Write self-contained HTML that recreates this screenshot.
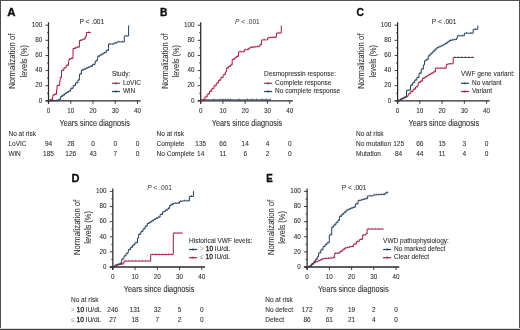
<!DOCTYPE html>
<html><head><meta charset="utf-8"><style>
html,body{margin:0;padding:0;background:#fff;}
#w{position:relative;width:520px;height:330px;overflow:hidden;background:#fff;}
svg{display:block;font-family:"Liberation Sans", sans-serif;}
.b{position:absolute;background:#4d4d4d;}
</style></head><body><div id="w">
<svg width="520" height="330" viewBox="0 0 520 330">
<defs><filter id="fs" x="-5%" y="-5%" width="110%" height="110%"><feGaussianBlur stdDeviation="0.15"/></filter><filter id="ft" x="-5%" y="-5%" width="110%" height="110%"><feGaussianBlur stdDeviation="0.3"/></filter></defs>
<rect x="0" y="0" width="520" height="330" fill="#fff"/>
<g filter="url(#fs)"><line x1="48.50" y1="22.20" x2="48.50" y2="103.80" stroke="#2a2a2a" stroke-width="1.25"/>
<line x1="45.50" y1="100.80" x2="140.70" y2="100.80" stroke="#2a2a2a" stroke-width="1.3"/>
<line x1="45.50" y1="100.80" x2="48.50" y2="100.80" stroke="#2a2a2a" stroke-width="0.9"/>
<line x1="47.00" y1="93.24" x2="48.50" y2="93.24" stroke="#2a2a2a" stroke-width="0.9"/>
<line x1="45.50" y1="85.68" x2="48.50" y2="85.68" stroke="#2a2a2a" stroke-width="0.9"/>
<line x1="47.00" y1="78.12" x2="48.50" y2="78.12" stroke="#2a2a2a" stroke-width="0.9"/>
<line x1="45.50" y1="70.56" x2="48.50" y2="70.56" stroke="#2a2a2a" stroke-width="0.9"/>
<line x1="47.00" y1="63.00" x2="48.50" y2="63.00" stroke="#2a2a2a" stroke-width="0.9"/>
<line x1="45.50" y1="55.44" x2="48.50" y2="55.44" stroke="#2a2a2a" stroke-width="0.9"/>
<line x1="47.00" y1="47.88" x2="48.50" y2="47.88" stroke="#2a2a2a" stroke-width="0.9"/>
<line x1="45.50" y1="40.32" x2="48.50" y2="40.32" stroke="#2a2a2a" stroke-width="0.9"/>
<line x1="47.00" y1="32.76" x2="48.50" y2="32.76" stroke="#2a2a2a" stroke-width="0.9"/>
<line x1="45.50" y1="25.20" x2="48.50" y2="25.20" stroke="#2a2a2a" stroke-width="0.9"/>
<line x1="48.50" y1="100.80" x2="48.50" y2="103.80" stroke="#2a2a2a" stroke-width="0.9"/>
<line x1="70.75" y1="100.80" x2="70.75" y2="103.80" stroke="#2a2a2a" stroke-width="0.9"/>
<line x1="93.00" y1="100.80" x2="93.00" y2="103.80" stroke="#2a2a2a" stroke-width="0.9"/>
<line x1="115.25" y1="100.80" x2="115.25" y2="103.80" stroke="#2a2a2a" stroke-width="0.9"/>
<line x1="137.50" y1="100.80" x2="137.50" y2="103.80" stroke="#2a2a2a" stroke-width="0.9"/>
<path d="M48.50,100.80L50.20,100.80L50.20,99.70L52.50,99.70L52.50,97.50L52.90,97.50L52.90,95.20L54.30,95.20L54.30,94.30L56.50,94.30L56.50,89.70L57.00,89.70L57.00,85.60L59.70,85.60L59.70,81.10L60.20,81.10L60.20,77.50L61.50,77.50L61.50,70.40L63.85,70.40L63.85,67.90L66.20,67.90L66.20,65.40L68.50,65.40L68.50,61.70L68.90,61.70L68.90,59.50L70.30,59.50L70.30,58.50L73.00,58.50L73.00,48.50L75.70,48.50L75.70,47.20L79.40,47.20L79.40,40.50L81.45,40.50L81.45,39.80L83.50,39.80L83.50,39.10L85.30,39.10L85.30,36.50L86.40,36.50L86.40,32.50L90.90,32.50" fill="none" stroke="#a81d42" stroke-width="1.0" stroke-linejoin="miter"/>
<path d="M49.35,99.50V100.80M51.35,98.40V99.70M53.60,93.90V95.20M55.40,93.00V94.30M58.35,84.30V85.60M60.85,76.20V77.50M62.67,69.10V70.40M65.03,66.60V67.90M67.35,64.10V65.40M69.60,58.20V59.50M71.65,57.20V58.50M74.35,47.20V48.50M77.55,45.90V47.20M80.43,39.20V40.50M82.47,38.50V39.80M84.40,37.80V39.10M88.65,31.20V32.50" fill="none" stroke="#a81d42" stroke-width="0.65"/>
<path d="M48.50,100.80L57.90,100.80L57.90,99.70L60.60,99.70L60.60,96.50L62.55,96.50L62.55,95.15L64.50,95.15L64.50,93.80L66.45,93.80L66.45,92.45L68.40,92.45L68.40,91.10L70.78,91.10L70.78,88.38L73.15,88.38L73.15,85.65L75.53,85.65L75.53,82.92L77.90,82.92L77.90,80.20L79.30,80.20L79.30,77.00L79.50,77.00L79.50,74.10L81.40,74.10L81.40,70.20L83.55,70.20L83.55,69.22L85.70,69.22L85.70,68.25L87.85,68.25L87.85,67.28L90.00,67.28L90.00,66.30L92.50,66.30L92.50,64.65L95.00,64.65L95.00,63.00L95.30,63.00L95.30,61.00L97.30,61.00L97.30,58.70L97.70,58.70L97.70,56.30L99.80,56.30L99.80,55.10L101.90,55.10L101.90,53.90L104.00,53.90L104.00,52.70L106.25,52.70L106.25,50.50L108.50,50.50L108.50,48.30L108.50,44.10L111.50,44.10L114.25,44.10L114.25,43.00L117.00,43.00L117.00,41.90L124.30,41.90L124.30,36.00L128.60,36.00L128.60,25.40" fill="none" stroke="#27405f" stroke-width="1.0" stroke-linejoin="miter"/>
<path d="M50.07,99.50V100.80M53.20,99.50V100.80M56.33,99.50V100.80M59.25,98.40V99.70M61.58,95.20V96.50M63.53,93.85V95.15M65.47,92.50V93.80M67.43,91.15V92.45M69.59,89.80V91.10M71.96,87.08V88.38M74.34,84.35V85.65M76.71,81.62V82.92M78.60,78.90V80.20M80.45,72.80V74.10M82.48,68.90V70.20M84.62,67.92V69.22M86.78,66.95V68.25M88.92,65.98V67.28M91.25,65.00V66.30M93.75,63.35V64.65M96.30,59.70V61.00M98.75,55.00V56.30M100.85,53.80V55.10M102.95,52.60V53.90M105.12,51.40V52.70M107.38,49.20V50.50M110.00,42.80V44.10M112.88,42.80V44.10M115.62,41.70V43.00M118.83,40.60V41.90M122.47,40.60V41.90M126.45,34.70V36.00" fill="none" stroke="#27405f" stroke-width="0.65"/>
<line x1="111.90" y1="83.30" x2="119.90" y2="83.30" stroke="#a81d42" stroke-width="1.2"/>
<line x1="115.90" y1="82.10" x2="115.90" y2="84.50" stroke="#a81d42" stroke-width="0.8"/>
<line x1="111.90" y1="91.50" x2="119.90" y2="91.50" stroke="#27405f" stroke-width="1.2"/>
<line x1="115.90" y1="90.30" x2="115.90" y2="92.70" stroke="#27405f" stroke-width="0.8"/>
<line x1="200.70" y1="22.20" x2="200.70" y2="103.80" stroke="#2a2a2a" stroke-width="1.25"/>
<line x1="197.70" y1="100.80" x2="292.90" y2="100.80" stroke="#2a2a2a" stroke-width="1.3"/>
<line x1="197.70" y1="100.80" x2="200.70" y2="100.80" stroke="#2a2a2a" stroke-width="0.9"/>
<line x1="199.20" y1="93.24" x2="200.70" y2="93.24" stroke="#2a2a2a" stroke-width="0.9"/>
<line x1="197.70" y1="85.68" x2="200.70" y2="85.68" stroke="#2a2a2a" stroke-width="0.9"/>
<line x1="199.20" y1="78.12" x2="200.70" y2="78.12" stroke="#2a2a2a" stroke-width="0.9"/>
<line x1="197.70" y1="70.56" x2="200.70" y2="70.56" stroke="#2a2a2a" stroke-width="0.9"/>
<line x1="199.20" y1="63.00" x2="200.70" y2="63.00" stroke="#2a2a2a" stroke-width="0.9"/>
<line x1="197.70" y1="55.44" x2="200.70" y2="55.44" stroke="#2a2a2a" stroke-width="0.9"/>
<line x1="199.20" y1="47.88" x2="200.70" y2="47.88" stroke="#2a2a2a" stroke-width="0.9"/>
<line x1="197.70" y1="40.32" x2="200.70" y2="40.32" stroke="#2a2a2a" stroke-width="0.9"/>
<line x1="199.20" y1="32.76" x2="200.70" y2="32.76" stroke="#2a2a2a" stroke-width="0.9"/>
<line x1="197.70" y1="25.20" x2="200.70" y2="25.20" stroke="#2a2a2a" stroke-width="0.9"/>
<line x1="200.70" y1="100.80" x2="200.70" y2="103.80" stroke="#2a2a2a" stroke-width="0.9"/>
<line x1="222.95" y1="100.80" x2="222.95" y2="103.80" stroke="#2a2a2a" stroke-width="0.9"/>
<line x1="245.20" y1="100.80" x2="245.20" y2="103.80" stroke="#2a2a2a" stroke-width="0.9"/>
<line x1="267.45" y1="100.80" x2="267.45" y2="103.80" stroke="#2a2a2a" stroke-width="0.9"/>
<line x1="289.70" y1="100.80" x2="289.70" y2="103.80" stroke="#2a2a2a" stroke-width="0.9"/>
<path d="M200.70,99.90L270.50,99.90" fill="none" stroke="#27405f" stroke-width="1.0" stroke-linejoin="miter"/>
<path d="M214.00,98.50V99.90M220.00,98.50V99.90M223.00,98.50V99.90M225.40,98.50V99.90M228.00,98.50V99.90M230.20,98.50V99.90M239.00,98.50V99.90M247.50,98.50V99.90M252.20,98.50V99.90M256.40,98.50V99.90M262.00,98.50V99.90M266.00,98.50V99.90M270.30,98.50V99.90" fill="none" stroke="#27405f" stroke-width="0.7"/>
<path d="M200.70,100.80L202.60,100.80L202.60,99.70L204.88,99.70L204.88,96.93L207.16,96.93L207.16,94.16L209.44,94.16L209.44,91.39L211.72,91.39L211.72,88.62L214.00,88.62L214.00,85.85L216.28,85.85L216.28,83.08L218.56,83.08L218.56,80.31L220.84,80.31L220.84,77.54L223.12,77.54L223.12,74.77L225.40,74.77L225.40,72.00L226.40,72.00L226.40,68.20L228.55,68.20L228.55,66.55L230.70,66.55L230.70,64.90L232.20,64.90L232.20,59.50L234.30,59.50L234.30,58.00L236.40,58.00L236.40,56.50L238.50,56.50L238.50,55.00L238.50,51.80L242.40,51.80L244.30,51.80L244.30,49.80L246.70,49.80L248.40,49.80L248.40,48.60L250.10,48.60L250.10,47.40L252.12,47.40L252.12,47.20L254.15,47.20L254.15,47.00L256.18,47.00L256.18,46.80L258.20,46.80L258.20,46.60L259.80,46.60L259.80,44.70L261.60,44.70L261.60,39.90L266.70,39.90L267.70,39.90L267.70,37.80L269.88,37.80L269.88,37.65L272.05,37.65L272.05,37.50L274.22,37.50L274.22,37.35L276.40,37.35L276.40,37.20L276.40,33.00L281.30,33.00L281.30,25.60" fill="none" stroke="#a81d42" stroke-width="1.0" stroke-linejoin="miter"/>
<path d="M201.65,99.50V100.80M203.74,98.40V99.70M206.02,95.63V96.93M208.30,92.86V94.16M210.58,90.09V91.39M212.86,87.32V88.62M215.14,84.55V85.85M217.42,81.78V83.08M219.70,79.01V80.31M221.98,76.24V77.54M224.26,73.47V74.77M227.48,66.90V68.20M229.62,65.25V66.55M231.45,63.60V64.90M233.25,58.20V59.50M235.35,56.70V58.00M237.45,55.20V56.50M240.45,50.50V51.80M243.35,50.50V51.80M245.50,48.50V49.80M247.55,48.50V49.80M249.25,47.30V48.60M251.11,46.10V47.40M253.14,45.90V47.20M255.16,45.70V47.00M257.19,45.50V46.80M259.00,45.30V46.60M260.70,43.40V44.70M264.15,38.60V39.90M268.79,36.50V37.80M270.96,36.35V37.65M273.14,36.20V37.50M275.31,36.05V37.35M278.85,31.70V33.00" fill="none" stroke="#a81d42" stroke-width="0.65"/>
<line x1="264.10" y1="83.30" x2="272.10" y2="83.30" stroke="#a81d42" stroke-width="1.2"/>
<line x1="268.10" y1="82.10" x2="268.10" y2="84.50" stroke="#a81d42" stroke-width="0.8"/>
<line x1="264.10" y1="91.50" x2="272.10" y2="91.50" stroke="#27405f" stroke-width="1.2"/>
<line x1="268.10" y1="90.30" x2="268.10" y2="92.70" stroke="#27405f" stroke-width="0.8"/>
<line x1="397.60" y1="22.20" x2="397.60" y2="103.80" stroke="#2a2a2a" stroke-width="1.25"/>
<line x1="394.60" y1="100.80" x2="489.80" y2="100.80" stroke="#2a2a2a" stroke-width="1.3"/>
<line x1="394.60" y1="100.80" x2="397.60" y2="100.80" stroke="#2a2a2a" stroke-width="0.9"/>
<line x1="396.10" y1="93.24" x2="397.60" y2="93.24" stroke="#2a2a2a" stroke-width="0.9"/>
<line x1="394.60" y1="85.68" x2="397.60" y2="85.68" stroke="#2a2a2a" stroke-width="0.9"/>
<line x1="396.10" y1="78.12" x2="397.60" y2="78.12" stroke="#2a2a2a" stroke-width="0.9"/>
<line x1="394.60" y1="70.56" x2="397.60" y2="70.56" stroke="#2a2a2a" stroke-width="0.9"/>
<line x1="396.10" y1="63.00" x2="397.60" y2="63.00" stroke="#2a2a2a" stroke-width="0.9"/>
<line x1="394.60" y1="55.44" x2="397.60" y2="55.44" stroke="#2a2a2a" stroke-width="0.9"/>
<line x1="396.10" y1="47.88" x2="397.60" y2="47.88" stroke="#2a2a2a" stroke-width="0.9"/>
<line x1="394.60" y1="40.32" x2="397.60" y2="40.32" stroke="#2a2a2a" stroke-width="0.9"/>
<line x1="396.10" y1="32.76" x2="397.60" y2="32.76" stroke="#2a2a2a" stroke-width="0.9"/>
<line x1="394.60" y1="25.20" x2="397.60" y2="25.20" stroke="#2a2a2a" stroke-width="0.9"/>
<line x1="397.60" y1="100.80" x2="397.60" y2="103.80" stroke="#2a2a2a" stroke-width="0.9"/>
<line x1="419.85" y1="100.80" x2="419.85" y2="103.80" stroke="#2a2a2a" stroke-width="0.9"/>
<line x1="442.10" y1="100.80" x2="442.10" y2="103.80" stroke="#2a2a2a" stroke-width="0.9"/>
<line x1="464.35" y1="100.80" x2="464.35" y2="103.80" stroke="#2a2a2a" stroke-width="0.9"/>
<line x1="486.60" y1="100.80" x2="486.60" y2="103.80" stroke="#2a2a2a" stroke-width="0.9"/>
<path d="M397.60,100.80L399.64,100.80L399.64,99.76L401.68,99.76L401.68,98.72L403.72,98.72L403.72,97.68L405.76,97.68L405.76,96.64L407.80,96.64L407.80,95.60L408.30,95.60L408.30,93.80L410.68,93.80L410.68,91.53L413.05,91.53L413.05,89.25L415.43,89.25L415.43,86.97L417.80,86.97L417.80,84.70L418.30,84.70L418.30,82.50L420.50,82.50L420.50,81.10L422.40,81.10L422.40,78.40L424.54,78.40L424.54,77.12L426.68,77.12L426.68,75.84L428.82,75.84L428.82,74.56L430.96,74.56L430.96,73.28L433.10,73.28L433.10,72.00L435.40,72.00L435.40,68.20L446.30,68.20L446.30,64.70L448.10,64.70L448.10,63.80L453.20,63.80L453.20,57.50L473.90,57.50" fill="none" stroke="#a81d42" stroke-width="1.0" stroke-linejoin="miter"/>
<path d="M398.62,99.50V100.80M400.66,98.46V99.76M402.70,97.42V98.72M404.74,96.38V97.68M406.78,95.34V96.64M409.49,92.50V93.80M411.86,90.23V91.53M414.24,87.95V89.25M416.61,85.67V86.97M419.40,81.20V82.50M421.45,79.80V81.10M423.47,77.10V78.40M425.61,75.82V77.12M427.75,74.54V75.84M429.89,73.26V74.56M432.03,71.98V73.28M434.25,70.70V72.00M437.22,66.90V68.20M440.85,66.90V68.20M444.48,66.90V68.20M447.20,63.40V64.70M450.65,62.50V63.80M454.93,56.20V57.50M458.38,56.20V57.50M461.82,56.20V57.50M465.27,56.20V57.50M468.72,56.20V57.50M472.17,56.20V57.50" fill="none" stroke="#a81d42" stroke-width="0.65"/>
<path d="M397.60,100.80L399.83,100.80L399.83,99.62L402.05,99.62L402.05,98.45L404.27,98.45L404.27,97.27L406.50,97.27L406.50,96.10L406.50,90.60L407.80,90.60L407.80,90.20L410.50,90.20L410.50,85.20L412.63,85.20L412.63,82.63L414.77,82.63L414.77,80.07L416.90,80.07L416.90,77.50L419.07,77.50L419.07,73.30L421.23,73.30L421.23,69.10L423.40,69.10L423.40,64.90L424.50,64.90L424.50,60.90L426.10,60.90L426.10,59.60L428.20,59.60L428.20,55.90L430.18,55.90L430.18,53.92L432.15,53.92L432.15,51.95L434.12,51.95L434.12,49.98L436.10,49.98L436.10,48.00L438.40,48.00L438.40,46.93L440.70,46.93L440.70,45.87L443.00,45.87L443.00,44.80L445.13,44.80L445.13,43.37L447.27,43.37L447.27,41.93L449.40,41.93L449.40,40.50L451.40,40.50L451.40,40.10L453.40,40.10L453.40,39.70L456.50,39.70L456.50,38.10L457.40,38.10L457.40,35.80L464.40,35.80L464.40,33.20L473.20,33.20L473.20,29.30L477.80,29.30L477.80,25.50" fill="none" stroke="#27405f" stroke-width="1.0" stroke-linejoin="miter"/>
<path d="M398.71,99.50V100.80M400.94,98.33V99.62M403.16,97.15V98.45M405.39,95.97V97.27M407.15,89.30V90.60M409.15,88.90V90.20M411.57,83.90V85.20M413.70,81.33V82.63M415.83,78.77V80.07M417.98,76.20V77.50M420.15,72.00V73.30M422.32,67.80V69.10M425.30,59.60V60.90M427.15,58.30V59.60M429.19,54.60V55.90M431.16,52.62V53.92M433.14,50.65V51.95M435.11,48.68V49.98M437.25,46.70V48.00M439.55,45.63V46.93M441.85,44.57V45.87M444.07,43.50V44.80M446.20,42.07V43.37M448.33,40.63V41.93M450.40,39.20V40.50M452.40,38.80V40.10M454.95,38.40V39.70M459.15,34.50V35.80M462.65,34.50V35.80M466.60,31.90V33.20M471.00,31.90V33.20M475.50,28.00V29.30" fill="none" stroke="#27405f" stroke-width="0.65"/>
<line x1="461.00" y1="83.30" x2="469.00" y2="83.30" stroke="#27405f" stroke-width="1.2"/>
<line x1="465.00" y1="82.10" x2="465.00" y2="84.50" stroke="#27405f" stroke-width="0.8"/>
<line x1="461.00" y1="91.50" x2="469.00" y2="91.50" stroke="#a81d42" stroke-width="1.2"/>
<line x1="465.00" y1="90.30" x2="465.00" y2="92.70" stroke="#a81d42" stroke-width="0.8"/>
<line x1="112.80" y1="188.40" x2="112.80" y2="270.00" stroke="#2a2a2a" stroke-width="1.25"/>
<line x1="109.80" y1="267.00" x2="205.00" y2="267.00" stroke="#2a2a2a" stroke-width="1.3"/>
<line x1="109.80" y1="267.00" x2="112.80" y2="267.00" stroke="#2a2a2a" stroke-width="0.9"/>
<line x1="111.30" y1="259.44" x2="112.80" y2="259.44" stroke="#2a2a2a" stroke-width="0.9"/>
<line x1="109.80" y1="251.88" x2="112.80" y2="251.88" stroke="#2a2a2a" stroke-width="0.9"/>
<line x1="111.30" y1="244.32" x2="112.80" y2="244.32" stroke="#2a2a2a" stroke-width="0.9"/>
<line x1="109.80" y1="236.76" x2="112.80" y2="236.76" stroke="#2a2a2a" stroke-width="0.9"/>
<line x1="111.30" y1="229.20" x2="112.80" y2="229.20" stroke="#2a2a2a" stroke-width="0.9"/>
<line x1="109.80" y1="221.64" x2="112.80" y2="221.64" stroke="#2a2a2a" stroke-width="0.9"/>
<line x1="111.30" y1="214.08" x2="112.80" y2="214.08" stroke="#2a2a2a" stroke-width="0.9"/>
<line x1="109.80" y1="206.52" x2="112.80" y2="206.52" stroke="#2a2a2a" stroke-width="0.9"/>
<line x1="111.30" y1="198.96" x2="112.80" y2="198.96" stroke="#2a2a2a" stroke-width="0.9"/>
<line x1="109.80" y1="191.40" x2="112.80" y2="191.40" stroke="#2a2a2a" stroke-width="0.9"/>
<line x1="112.80" y1="267.00" x2="112.80" y2="270.00" stroke="#2a2a2a" stroke-width="0.9"/>
<line x1="135.05" y1="267.00" x2="135.05" y2="270.00" stroke="#2a2a2a" stroke-width="0.9"/>
<line x1="157.30" y1="267.00" x2="157.30" y2="270.00" stroke="#2a2a2a" stroke-width="0.9"/>
<line x1="179.55" y1="267.00" x2="179.55" y2="270.00" stroke="#2a2a2a" stroke-width="0.9"/>
<line x1="201.80" y1="267.00" x2="201.80" y2="270.00" stroke="#2a2a2a" stroke-width="0.9"/>
<path d="M112.80,267.00L114.90,267.00L114.90,265.10L117.15,265.10L117.15,264.73L119.40,264.73L119.40,264.35L121.65,264.35L121.65,263.98L123.90,263.98L123.90,263.60L123.90,261.10L150.70,261.10L150.70,254.60L173.30,254.60L173.30,233.10L182.60,233.10" fill="none" stroke="#a81d42" stroke-width="1.0" stroke-linejoin="miter"/>
<path d="M113.85,265.70V267.00M116.03,263.80V265.10M118.28,263.43V264.73M120.53,263.05V264.35M122.78,262.68V263.98M125.58,259.80V261.10M128.93,259.80V261.10M132.28,259.80V261.10M135.62,259.80V261.10M138.97,259.80V261.10M142.32,259.80V261.10M145.67,259.80V261.10M149.02,259.80V261.10M152.31,253.30V254.60M155.54,253.30V254.60M158.77,253.30V254.60M162.00,253.30V254.60M165.23,253.30V254.60M168.46,253.30V254.60M171.69,253.30V254.60M174.85,231.80V233.10M177.95,231.80V233.10M181.05,231.80V233.10" fill="none" stroke="#a81d42" stroke-width="0.65"/>
<path d="M112.80,267.00L114.97,267.00L114.97,265.87L117.13,265.87L117.13,264.73L119.30,264.73L119.30,263.60L121.70,263.60L121.70,259.30L123.20,259.30L123.20,258.30L124.10,258.30L124.10,255.90L126.05,255.90L126.05,253.70L128.00,253.70L128.00,251.50L128.50,251.50L128.50,249.60L130.60,249.60L130.60,247.33L132.70,247.33L132.70,245.07L134.80,245.07L134.80,242.80L137.50,242.80L137.50,238.20L138.60,238.20L138.60,234.40L140.78,234.40L140.78,231.68L142.95,231.68L142.95,228.95L145.12,228.95L145.12,226.22L147.30,226.22L147.30,223.50L149.36,223.50L149.36,222.24L151.42,222.24L151.42,220.98L153.48,220.98L153.48,219.72L155.54,219.72L155.54,218.46L157.60,218.46L157.60,217.20L160.10,217.20L160.10,214.50L162.60,214.50L162.60,211.80L165.30,211.80L165.30,210.05L168.00,210.05L168.00,208.30L169.70,208.30L169.70,205.40L171.60,205.40L171.60,204.30L173.50,204.30L173.50,203.20L178.00,203.20L179.50,203.20L179.50,201.60L181.80,201.60L181.80,200.90L187.10,200.90L189.40,200.90L189.40,196.40L193.50,196.40L193.50,191.10" fill="none" stroke="#27405f" stroke-width="1.0" stroke-linejoin="miter"/>
<path d="M113.88,265.70V267.00M116.05,264.57V265.87M118.22,263.43V264.73M120.50,262.30V263.60M122.45,258.00V259.30M125.07,254.60V255.90M127.03,252.40V253.70M129.55,248.30V249.60M131.65,246.03V247.33M133.75,243.77V245.07M136.15,241.50V242.80M139.69,233.10V234.40M141.86,230.38V231.68M144.04,227.65V228.95M146.21,224.92V226.22M148.33,222.20V223.50M150.39,220.94V222.24M152.45,219.68V220.98M154.51,218.42V219.72M156.57,217.16V218.46M158.85,215.90V217.20M161.35,213.20V214.50M163.95,210.50V211.80M166.65,208.75V210.05M168.85,207.00V208.30M170.65,204.10V205.40M172.55,203.00V204.30M175.75,201.90V203.20M178.75,201.90V203.20M180.65,200.30V201.60M184.45,199.60V200.90M188.25,199.60V200.90M191.45,195.10V196.40" fill="none" stroke="#27405f" stroke-width="0.65"/>
<line x1="189.00" y1="249.50" x2="197.00" y2="249.50" stroke="#27405f" stroke-width="1.2"/>
<line x1="193.00" y1="248.30" x2="193.00" y2="250.70" stroke="#27405f" stroke-width="0.8"/>
<line x1="189.00" y1="257.70" x2="197.00" y2="257.70" stroke="#a81d42" stroke-width="1.2"/>
<line x1="193.00" y1="256.50" x2="193.00" y2="258.90" stroke="#a81d42" stroke-width="0.8"/>
<line x1="307.10" y1="188.40" x2="307.10" y2="270.00" stroke="#2a2a2a" stroke-width="1.25"/>
<line x1="304.10" y1="267.00" x2="399.30" y2="267.00" stroke="#2a2a2a" stroke-width="1.3"/>
<line x1="304.10" y1="267.00" x2="307.10" y2="267.00" stroke="#2a2a2a" stroke-width="0.9"/>
<line x1="305.60" y1="259.44" x2="307.10" y2="259.44" stroke="#2a2a2a" stroke-width="0.9"/>
<line x1="304.10" y1="251.88" x2="307.10" y2="251.88" stroke="#2a2a2a" stroke-width="0.9"/>
<line x1="305.60" y1="244.32" x2="307.10" y2="244.32" stroke="#2a2a2a" stroke-width="0.9"/>
<line x1="304.10" y1="236.76" x2="307.10" y2="236.76" stroke="#2a2a2a" stroke-width="0.9"/>
<line x1="305.60" y1="229.20" x2="307.10" y2="229.20" stroke="#2a2a2a" stroke-width="0.9"/>
<line x1="304.10" y1="221.64" x2="307.10" y2="221.64" stroke="#2a2a2a" stroke-width="0.9"/>
<line x1="305.60" y1="214.08" x2="307.10" y2="214.08" stroke="#2a2a2a" stroke-width="0.9"/>
<line x1="304.10" y1="206.52" x2="307.10" y2="206.52" stroke="#2a2a2a" stroke-width="0.9"/>
<line x1="305.60" y1="198.96" x2="307.10" y2="198.96" stroke="#2a2a2a" stroke-width="0.9"/>
<line x1="304.10" y1="191.40" x2="307.10" y2="191.40" stroke="#2a2a2a" stroke-width="0.9"/>
<line x1="307.10" y1="267.00" x2="307.10" y2="270.00" stroke="#2a2a2a" stroke-width="0.9"/>
<line x1="329.35" y1="267.00" x2="329.35" y2="270.00" stroke="#2a2a2a" stroke-width="0.9"/>
<line x1="351.60" y1="267.00" x2="351.60" y2="270.00" stroke="#2a2a2a" stroke-width="0.9"/>
<line x1="373.85" y1="267.00" x2="373.85" y2="270.00" stroke="#2a2a2a" stroke-width="0.9"/>
<line x1="396.10" y1="267.00" x2="396.10" y2="270.00" stroke="#2a2a2a" stroke-width="0.9"/>
<path d="M307.10,267.00L309.40,267.00L309.40,266.10L311.35,266.10L311.35,264.40L313.30,264.40L313.30,262.70L315.60,262.70L315.60,261.73L317.90,261.73L317.90,260.75L320.20,260.75L320.20,259.77L322.50,259.77L322.50,258.80L324.93,258.80L324.93,258.55L327.35,258.55L327.35,258.30L329.77,258.30L329.77,258.05L332.20,258.05L332.20,257.80L334.60,257.80L334.60,253.50L336.30,253.50L336.30,253.25L338.00,253.25L338.00,253.00L340.13,253.00L340.13,251.40L342.27,251.40L342.27,249.80L344.40,249.80L344.40,248.20L346.57,248.20L346.57,247.63L348.73,247.63L348.73,247.07L350.90,247.07L350.90,246.50L353.65,246.50L353.65,244.05L356.40,244.05L356.40,241.60L358.50,241.60L358.50,241.10L359.60,241.10L359.60,239.40L362.60,239.40L362.60,238.90L362.60,235.10L364.50,235.10L365.60,235.10L365.60,234.00L367.10,234.00L367.10,229.10L383.60,229.10" fill="none" stroke="#a81d42" stroke-width="1.0" stroke-linejoin="miter"/>
<path d="M308.25,265.70V267.00M310.38,264.80V266.10M312.33,263.10V264.40M314.45,261.40V262.70M316.75,260.43V261.73M319.05,259.45V260.75M321.35,258.47V259.77M323.71,257.50V258.80M326.14,257.25V258.55M328.56,257.00V258.30M330.99,256.75V258.05M333.40,256.50V257.80M335.45,252.20V253.50M337.15,251.95V253.25M339.07,251.70V253.00M341.20,250.10V251.40M343.33,248.50V249.80M345.48,246.90V248.20M347.65,246.33V247.63M349.82,245.77V247.07M352.27,245.20V246.50M355.02,242.75V244.05M357.45,240.30V241.60M361.10,238.10V239.40M363.55,233.80V235.10M366.35,232.70V234.00M368.75,227.80V229.10M372.05,227.80V229.10M375.35,227.80V229.10M378.65,227.80V229.10M381.95,227.80V229.10" fill="none" stroke="#a81d42" stroke-width="0.65"/>
<path d="M307.10,267.00L309.40,267.00L309.40,266.10L311.60,266.10L311.60,263.90L313.80,263.90L313.80,261.70L315.50,261.70L315.50,259.30L317.20,259.30L317.20,256.90L318.60,256.90L318.60,253.00L320.80,253.00L320.80,249.85L323.00,249.85L323.00,246.70L324.95,246.70L324.95,244.75L326.90,244.75L326.90,242.80L329.30,242.80L329.30,235.00L331.70,235.00L331.70,227.20L333.77,227.20L333.77,224.97L335.83,224.97L335.83,222.73L337.90,222.73L337.90,220.50L339.40,220.50L339.40,216.40L341.63,216.40L341.63,214.33L343.87,214.33L343.87,212.27L346.10,212.27L346.10,210.20L348.30,210.20L348.30,209.23L350.50,209.23L350.50,208.27L352.70,208.27L352.70,207.30L355.35,207.30L355.35,204.00L358.00,204.00L358.00,200.70L360.40,200.70L360.40,200.02L362.80,200.02L362.80,199.35L365.20,199.35L365.20,198.68L367.60,198.68L367.60,198.00L367.60,195.90L373.30,195.90L373.30,194.90L375.60,194.90L375.60,194.80L377.90,194.80L377.90,194.70L380.20,194.70L380.20,194.60L382.50,194.60L382.50,194.50L385.10,194.50L385.10,193.05L387.70,193.05L387.70,191.60" fill="none" stroke="#27405f" stroke-width="1.0" stroke-linejoin="miter"/>
<path d="M308.25,265.70V267.00M310.50,264.80V266.10M312.70,262.60V263.90M314.65,260.40V261.70M316.35,258.00V259.30M317.90,255.60V256.90M319.70,251.70V253.00M321.90,248.55V249.85M323.98,245.40V246.70M325.92,243.45V244.75M328.10,241.50V242.80M330.50,233.70V235.00M332.73,225.90V227.20M334.80,223.67V224.97M336.87,221.43V222.73M338.65,219.20V220.50M340.52,215.10V216.40M342.75,213.03V214.33M344.98,210.97V212.27M347.20,208.90V210.20M349.40,207.93V209.23M351.60,206.97V208.27M354.02,206.00V207.30M356.68,202.70V204.00M359.20,199.40V200.70M361.60,198.72V200.02M364.00,198.05V199.35M366.40,197.38V198.68M370.45,194.60V195.90M374.45,193.60V194.90M376.75,193.50V194.80M379.05,193.40V194.70M381.35,193.30V194.60M383.80,193.20V194.50M386.40,191.75V193.05" fill="none" stroke="#27405f" stroke-width="0.65"/>
<line x1="383.10" y1="249.50" x2="391.10" y2="249.50" stroke="#27405f" stroke-width="1.2"/>
<line x1="387.10" y1="248.30" x2="387.10" y2="250.70" stroke="#27405f" stroke-width="0.8"/>
<line x1="383.10" y1="257.70" x2="391.10" y2="257.70" stroke="#a81d42" stroke-width="1.2"/>
<line x1="387.10" y1="256.50" x2="387.10" y2="258.90" stroke="#a81d42" stroke-width="0.8"/></g>
<g filter="url(#ft)"><text transform="translate(7.20,16.00) scale(1.08,1)" font-size="10.6" font-weight="bold" fill="#111" stroke="#111" stroke-width="0.35">A</text>
<text x="42.20" y="102.60" font-size="6.3" text-anchor="end" fill="#303030" stroke="#303030" stroke-width="0.08">0</text>
<text x="42.20" y="87.48" font-size="6.3" text-anchor="end" fill="#303030" stroke="#303030" stroke-width="0.08">20</text>
<text x="42.20" y="72.36" font-size="6.3" text-anchor="end" fill="#303030" stroke="#303030" stroke-width="0.08">40</text>
<text x="42.20" y="57.24" font-size="6.3" text-anchor="end" fill="#303030" stroke="#303030" stroke-width="0.08">60</text>
<text x="42.20" y="42.12" font-size="6.3" text-anchor="end" fill="#303030" stroke="#303030" stroke-width="0.08">80</text>
<text x="42.20" y="27.00" font-size="6.3" text-anchor="end" fill="#303030" stroke="#303030" stroke-width="0.08">100</text>
<text x="48.50" y="112.90" font-size="6.3" text-anchor="middle" fill="#303030" stroke="#303030" stroke-width="0.08">0</text>
<text x="70.75" y="112.90" font-size="6.3" text-anchor="middle" fill="#303030" stroke="#303030" stroke-width="0.08">10</text>
<text x="93.00" y="112.90" font-size="6.3" text-anchor="middle" fill="#303030" stroke="#303030" stroke-width="0.08">20</text>
<text x="115.25" y="112.90" font-size="6.3" text-anchor="middle" fill="#303030" stroke="#303030" stroke-width="0.08">30</text>
<text x="137.50" y="112.90" font-size="6.3" text-anchor="middle" fill="#303030" stroke="#303030" stroke-width="0.08">40</text>
<text x="59.50" y="125.50" font-size="9.8" textLength="70.5" lengthAdjust="spacingAndGlyphs" fill="#303030" stroke="#3a3a3a" stroke-width="0.12">Years since diagnosis</text>
<text transform="translate(15.30,61.20) rotate(-90)" font-size="9.0" text-anchor="middle" fill="#303030" stroke="#303030" stroke-width="0.06" textLength="55" lengthAdjust="spacingAndGlyphs">Normalization of</text>
<text transform="translate(26.80,61.20) rotate(-90)" font-size="9.0" text-anchor="middle" fill="#303030" stroke="#303030" stroke-width="0.06" textLength="32.5" lengthAdjust="spacingAndGlyphs">levels (%)</text>
<text x="79.50" y="24.00" font-size="6.6" fill="#303030" stroke="#303030" stroke-width="0.08">P &lt; .001</text>
<text x="111.90" y="76.40" font-size="6.5" fill="#303030" stroke="#303030" stroke-width="0.08">Study:</text>
<text x="122.90" y="84.60" font-size="6.5" fill="#303030" stroke="#303030" stroke-width="0.08">LoVIC</text>
<text x="122.90" y="92.80" font-size="6.5" fill="#303030" stroke="#303030" stroke-width="0.08">WiN</text>
<text x="8.50" y="135.90" font-size="6.5" fill="#303030" stroke="#303030" stroke-width="0.08">No at risk</text>
<text x="8.50" y="145.90" font-size="6.5" fill="#303030" stroke="#303030" stroke-width="0.08">LoVIC</text>
<text x="48.50" y="145.90" font-size="6.5" text-anchor="middle" fill="#303030" stroke="#303030" stroke-width="0.08">94</text>
<text x="70.75" y="145.90" font-size="6.5" text-anchor="middle" fill="#303030" stroke="#303030" stroke-width="0.08">28</text>
<text x="93.00" y="145.90" font-size="6.5" text-anchor="middle" fill="#303030" stroke="#303030" stroke-width="0.08">0</text>
<text x="115.25" y="145.90" font-size="6.5" text-anchor="middle" fill="#303030" stroke="#303030" stroke-width="0.08">0</text>
<text x="137.50" y="145.90" font-size="6.5" text-anchor="middle" fill="#303030" stroke="#303030" stroke-width="0.08">0</text>
<text x="8.50" y="155.90" font-size="6.5" fill="#303030" stroke="#303030" stroke-width="0.08">WiN</text>
<text x="48.50" y="155.90" font-size="6.5" text-anchor="middle" fill="#303030" stroke="#303030" stroke-width="0.08">185</text>
<text x="70.75" y="155.90" font-size="6.5" text-anchor="middle" fill="#303030" stroke="#303030" stroke-width="0.08">126</text>
<text x="93.00" y="155.90" font-size="6.5" text-anchor="middle" fill="#303030" stroke="#303030" stroke-width="0.08">43</text>
<text x="115.25" y="155.90" font-size="6.5" text-anchor="middle" fill="#303030" stroke="#303030" stroke-width="0.08">7</text>
<text x="137.50" y="155.90" font-size="6.5" text-anchor="middle" fill="#303030" stroke="#303030" stroke-width="0.08">0</text>
<text transform="translate(160.10,16.00) scale(0.97,1)" font-size="10.6" font-weight="bold" fill="#111" stroke="#111" stroke-width="0.35">B</text>
<text x="194.40" y="102.60" font-size="6.3" text-anchor="end" fill="#303030" stroke="#303030" stroke-width="0.08">0</text>
<text x="194.40" y="87.48" font-size="6.3" text-anchor="end" fill="#303030" stroke="#303030" stroke-width="0.08">20</text>
<text x="194.40" y="72.36" font-size="6.3" text-anchor="end" fill="#303030" stroke="#303030" stroke-width="0.08">40</text>
<text x="194.40" y="57.24" font-size="6.3" text-anchor="end" fill="#303030" stroke="#303030" stroke-width="0.08">60</text>
<text x="194.40" y="42.12" font-size="6.3" text-anchor="end" fill="#303030" stroke="#303030" stroke-width="0.08">80</text>
<text x="194.40" y="27.00" font-size="6.3" text-anchor="end" fill="#303030" stroke="#303030" stroke-width="0.08">100</text>
<text x="200.70" y="112.90" font-size="6.3" text-anchor="middle" fill="#303030" stroke="#303030" stroke-width="0.08">0</text>
<text x="222.95" y="112.90" font-size="6.3" text-anchor="middle" fill="#303030" stroke="#303030" stroke-width="0.08">10</text>
<text x="245.20" y="112.90" font-size="6.3" text-anchor="middle" fill="#303030" stroke="#303030" stroke-width="0.08">20</text>
<text x="267.45" y="112.90" font-size="6.3" text-anchor="middle" fill="#303030" stroke="#303030" stroke-width="0.08">30</text>
<text x="289.70" y="112.90" font-size="6.3" text-anchor="middle" fill="#303030" stroke="#303030" stroke-width="0.08">40</text>
<text x="211.70" y="125.50" font-size="9.8" textLength="70.5" lengthAdjust="spacingAndGlyphs" fill="#303030" stroke="#3a3a3a" stroke-width="0.12">Years since diagnosis</text>
<text transform="translate(167.50,61.20) rotate(-90)" font-size="9.0" text-anchor="middle" fill="#303030" stroke="#303030" stroke-width="0.06" textLength="55" lengthAdjust="spacingAndGlyphs">Normalization of</text>
<text transform="translate(179.00,61.20) rotate(-90)" font-size="9.0" text-anchor="middle" fill="#303030" stroke="#303030" stroke-width="0.06" textLength="32.5" lengthAdjust="spacingAndGlyphs">levels (%)</text>
<text x="235.00" y="24.00" font-size="6.6" fill="#303030"><tspan font-style="italic">P</tspan> &lt; .001</text>
<text x="264.10" y="76.40" font-size="6.5" fill="#303030" stroke="#303030" stroke-width="0.08">Desmopressin response:</text>
<text x="275.10" y="84.60" font-size="6.5" fill="#303030" stroke="#303030" stroke-width="0.08">Complete response</text>
<text x="275.10" y="92.80" font-size="6.5" fill="#303030" stroke="#303030" stroke-width="0.08">No complete response</text>
<text x="156.60" y="135.90" font-size="6.5" fill="#303030" stroke="#303030" stroke-width="0.08">No at risk</text>
<text x="156.60" y="145.90" font-size="6.5" fill="#303030" stroke="#303030" stroke-width="0.08">Complete</text>
<text x="200.70" y="145.90" font-size="6.5" text-anchor="middle" fill="#303030" stroke="#303030" stroke-width="0.08">135</text>
<text x="222.95" y="145.90" font-size="6.5" text-anchor="middle" fill="#303030" stroke="#303030" stroke-width="0.08">66</text>
<text x="245.20" y="145.90" font-size="6.5" text-anchor="middle" fill="#303030" stroke="#303030" stroke-width="0.08">14</text>
<text x="267.45" y="145.90" font-size="6.5" text-anchor="middle" fill="#303030" stroke="#303030" stroke-width="0.08">4</text>
<text x="289.70" y="145.90" font-size="6.5" text-anchor="middle" fill="#303030" stroke="#303030" stroke-width="0.08">0</text>
<text x="156.60" y="155.90" font-size="6.5" fill="#303030" stroke="#303030" stroke-width="0.08">No Complete</text>
<text x="200.70" y="155.90" font-size="6.5" text-anchor="middle" fill="#303030" stroke="#303030" stroke-width="0.08">14</text>
<text x="222.95" y="155.90" font-size="6.5" text-anchor="middle" fill="#303030" stroke="#303030" stroke-width="0.08">11</text>
<text x="245.20" y="155.90" font-size="6.5" text-anchor="middle" fill="#303030" stroke="#303030" stroke-width="0.08">6</text>
<text x="267.45" y="155.90" font-size="6.5" text-anchor="middle" fill="#303030" stroke="#303030" stroke-width="0.08">2</text>
<text x="289.70" y="155.90" font-size="6.5" text-anchor="middle" fill="#303030" stroke="#303030" stroke-width="0.08">0</text>
<text transform="translate(356.40,16.00) scale(0.97,1)" font-size="10.6" font-weight="bold" fill="#111" stroke="#111" stroke-width="0.35">C</text>
<text x="391.30" y="102.60" font-size="6.3" text-anchor="end" fill="#303030" stroke="#303030" stroke-width="0.08">0</text>
<text x="391.30" y="87.48" font-size="6.3" text-anchor="end" fill="#303030" stroke="#303030" stroke-width="0.08">20</text>
<text x="391.30" y="72.36" font-size="6.3" text-anchor="end" fill="#303030" stroke="#303030" stroke-width="0.08">40</text>
<text x="391.30" y="57.24" font-size="6.3" text-anchor="end" fill="#303030" stroke="#303030" stroke-width="0.08">60</text>
<text x="391.30" y="42.12" font-size="6.3" text-anchor="end" fill="#303030" stroke="#303030" stroke-width="0.08">80</text>
<text x="391.30" y="27.00" font-size="6.3" text-anchor="end" fill="#303030" stroke="#303030" stroke-width="0.08">100</text>
<text x="397.60" y="112.90" font-size="6.3" text-anchor="middle" fill="#303030" stroke="#303030" stroke-width="0.08">0</text>
<text x="419.85" y="112.90" font-size="6.3" text-anchor="middle" fill="#303030" stroke="#303030" stroke-width="0.08">10</text>
<text x="442.10" y="112.90" font-size="6.3" text-anchor="middle" fill="#303030" stroke="#303030" stroke-width="0.08">20</text>
<text x="464.35" y="112.90" font-size="6.3" text-anchor="middle" fill="#303030" stroke="#303030" stroke-width="0.08">30</text>
<text x="486.60" y="112.90" font-size="6.3" text-anchor="middle" fill="#303030" stroke="#303030" stroke-width="0.08">40</text>
<text x="408.60" y="125.50" font-size="9.8" textLength="70.5" lengthAdjust="spacingAndGlyphs" fill="#303030" stroke="#3a3a3a" stroke-width="0.12">Years since diagnosis</text>
<text transform="translate(364.40,61.20) rotate(-90)" font-size="9.0" text-anchor="middle" fill="#303030" stroke="#303030" stroke-width="0.06" textLength="55" lengthAdjust="spacingAndGlyphs">Normalization of</text>
<text transform="translate(375.90,61.20) rotate(-90)" font-size="9.0" text-anchor="middle" fill="#303030" stroke="#303030" stroke-width="0.06" textLength="32.5" lengthAdjust="spacingAndGlyphs">levels (%)</text>
<text x="431.80" y="24.00" font-size="6.6" fill="#303030" stroke="#303030" stroke-width="0.08">P &lt; .001</text>
<text x="461.00" y="76.40" font-size="6.5" fill="#303030" stroke="#303030" stroke-width="0.08">VWF gene variant:</text>
<text x="472.00" y="84.60" font-size="6.5" fill="#303030" stroke="#303030" stroke-width="0.08">No variant</text>
<text x="472.00" y="92.80" font-size="6.5" fill="#303030" stroke="#303030" stroke-width="0.08">Variant</text>
<text x="356.00" y="135.90" font-size="6.5" fill="#303030" stroke="#303030" stroke-width="0.08">No at risk</text>
<text x="356.00" y="145.90" font-size="6.5" fill="#303030" stroke="#303030" stroke-width="0.08">No mutation</text>
<text x="398.60" y="145.90" font-size="6.5" text-anchor="middle" fill="#303030" stroke="#303030" stroke-width="0.08">125</text>
<text x="419.85" y="145.90" font-size="6.5" text-anchor="middle" fill="#303030" stroke="#303030" stroke-width="0.08">66</text>
<text x="442.10" y="145.90" font-size="6.5" text-anchor="middle" fill="#303030" stroke="#303030" stroke-width="0.08">15</text>
<text x="464.35" y="145.90" font-size="6.5" text-anchor="middle" fill="#303030" stroke="#303030" stroke-width="0.08">3</text>
<text x="486.60" y="145.90" font-size="6.5" text-anchor="middle" fill="#303030" stroke="#303030" stroke-width="0.08">0</text>
<text x="356.00" y="155.90" font-size="6.5" fill="#303030" stroke="#303030" stroke-width="0.08">Mutation</text>
<text x="398.60" y="155.90" font-size="6.5" text-anchor="middle" fill="#303030" stroke="#303030" stroke-width="0.08">84</text>
<text x="419.85" y="155.90" font-size="6.5" text-anchor="middle" fill="#303030" stroke="#303030" stroke-width="0.08">44</text>
<text x="442.10" y="155.90" font-size="6.5" text-anchor="middle" fill="#303030" stroke="#303030" stroke-width="0.08">11</text>
<text x="464.35" y="155.90" font-size="6.5" text-anchor="middle" fill="#303030" stroke="#303030" stroke-width="0.08">4</text>
<text x="486.60" y="155.90" font-size="6.5" text-anchor="middle" fill="#303030" stroke="#303030" stroke-width="0.08">0</text>
<text transform="translate(71.50,182.20) scale(1.04,1)" font-size="10.6" font-weight="bold" fill="#111" stroke="#111" stroke-width="0.35">D</text>
<text x="106.50" y="268.80" font-size="6.3" text-anchor="end" fill="#303030" stroke="#303030" stroke-width="0.08">0</text>
<text x="106.50" y="253.68" font-size="6.3" text-anchor="end" fill="#303030" stroke="#303030" stroke-width="0.08">20</text>
<text x="106.50" y="238.56" font-size="6.3" text-anchor="end" fill="#303030" stroke="#303030" stroke-width="0.08">40</text>
<text x="106.50" y="223.44" font-size="6.3" text-anchor="end" fill="#303030" stroke="#303030" stroke-width="0.08">60</text>
<text x="106.50" y="208.32" font-size="6.3" text-anchor="end" fill="#303030" stroke="#303030" stroke-width="0.08">80</text>
<text x="106.50" y="193.20" font-size="6.3" text-anchor="end" fill="#303030" stroke="#303030" stroke-width="0.08">100</text>
<text x="112.80" y="279.10" font-size="6.3" text-anchor="middle" fill="#303030" stroke="#303030" stroke-width="0.08">0</text>
<text x="135.05" y="279.10" font-size="6.3" text-anchor="middle" fill="#303030" stroke="#303030" stroke-width="0.08">10</text>
<text x="157.30" y="279.10" font-size="6.3" text-anchor="middle" fill="#303030" stroke="#303030" stroke-width="0.08">20</text>
<text x="179.55" y="279.10" font-size="6.3" text-anchor="middle" fill="#303030" stroke="#303030" stroke-width="0.08">30</text>
<text x="201.80" y="279.10" font-size="6.3" text-anchor="middle" fill="#303030" stroke="#303030" stroke-width="0.08">40</text>
<text x="123.80" y="291.70" font-size="9.8" textLength="70.5" lengthAdjust="spacingAndGlyphs" fill="#303030" stroke="#3a3a3a" stroke-width="0.12">Years since diagnosis</text>
<text transform="translate(79.60,227.40) rotate(-90)" font-size="9.0" text-anchor="middle" fill="#303030" stroke="#303030" stroke-width="0.06" textLength="55" lengthAdjust="spacingAndGlyphs">Normalization of</text>
<text transform="translate(91.10,227.40) rotate(-90)" font-size="9.0" text-anchor="middle" fill="#303030" stroke="#303030" stroke-width="0.06" textLength="32.5" lengthAdjust="spacingAndGlyphs">levels (%)</text>
<text x="147.20" y="189.90" font-size="6.6" fill="#303030"><tspan font-style="italic">P</tspan> &lt; .001</text>
<text x="189.00" y="242.60" font-size="6.5" fill="#303030" stroke="#303030" stroke-width="0.08">Historical VWF levels:</text>
<text x="200.00" y="250.80" font-size="6.5" fill="#303030" stroke="#303030" stroke-width="0.08"><tspan fill="#999" stroke="#999" font-size="6.3">&gt;</tspan> <tspan stroke-width="0.35" dx="0.3">10</tspan> IU/dL</text>
<text x="200.00" y="259.00" font-size="6.5" fill="#303030" stroke="#303030" stroke-width="0.08"><tspan fill="#999" stroke="#999" font-size="6.3">&#8804;</tspan> <tspan stroke-width="0.35" dx="0.3">10</tspan> IU/dL</text>
<text x="71.00" y="302.10" font-size="6.5" fill="#303030" stroke="#303030" stroke-width="0.08">No at risk</text>
<text x="71.00" y="312.10" font-size="6.5" fill="#303030" stroke="#303030" stroke-width="0.08"><tspan fill="#999" stroke="#999" font-size="6.3">&gt;</tspan> <tspan stroke-width="0.35" dx="0.3">10</tspan> IU/dL</text>
<text x="112.80" y="312.10" font-size="6.5" text-anchor="middle" fill="#303030" stroke="#303030" stroke-width="0.08">246</text>
<text x="135.05" y="312.10" font-size="6.5" text-anchor="middle" fill="#303030" stroke="#303030" stroke-width="0.08">131</text>
<text x="157.30" y="312.10" font-size="6.5" text-anchor="middle" fill="#303030" stroke="#303030" stroke-width="0.08">32</text>
<text x="179.55" y="312.10" font-size="6.5" text-anchor="middle" fill="#303030" stroke="#303030" stroke-width="0.08">5</text>
<text x="201.80" y="312.10" font-size="6.5" text-anchor="middle" fill="#303030" stroke="#303030" stroke-width="0.08">0</text>
<text x="71.00" y="322.10" font-size="6.5" fill="#303030" stroke="#303030" stroke-width="0.08"><tspan fill="#999" stroke="#999" font-size="6.3">&#8804;</tspan> <tspan stroke-width="0.35" dx="0.3">10</tspan> IU/dL</text>
<text x="112.80" y="322.10" font-size="6.5" text-anchor="middle" fill="#303030" stroke="#303030" stroke-width="0.08">27</text>
<text x="135.05" y="322.10" font-size="6.5" text-anchor="middle" fill="#303030" stroke="#303030" stroke-width="0.08">18</text>
<text x="157.30" y="322.10" font-size="6.5" text-anchor="middle" fill="#303030" stroke="#303030" stroke-width="0.08">7</text>
<text x="179.55" y="322.10" font-size="6.5" text-anchor="middle" fill="#303030" stroke="#303030" stroke-width="0.08">2</text>
<text x="201.80" y="322.10" font-size="6.5" text-anchor="middle" fill="#303030" stroke="#303030" stroke-width="0.08">0</text>
<text transform="translate(266.20,182.20) scale(0.92,1)" font-size="10.6" font-weight="bold" fill="#111" stroke="#111" stroke-width="0.35">E</text>
<text x="300.80" y="268.80" font-size="6.3" text-anchor="end" fill="#303030" stroke="#303030" stroke-width="0.08">0</text>
<text x="300.80" y="253.68" font-size="6.3" text-anchor="end" fill="#303030" stroke="#303030" stroke-width="0.08">20</text>
<text x="300.80" y="238.56" font-size="6.3" text-anchor="end" fill="#303030" stroke="#303030" stroke-width="0.08">40</text>
<text x="300.80" y="223.44" font-size="6.3" text-anchor="end" fill="#303030" stroke="#303030" stroke-width="0.08">60</text>
<text x="300.80" y="208.32" font-size="6.3" text-anchor="end" fill="#303030" stroke="#303030" stroke-width="0.08">80</text>
<text x="300.80" y="193.20" font-size="6.3" text-anchor="end" fill="#303030" stroke="#303030" stroke-width="0.08">100</text>
<text x="307.10" y="279.10" font-size="6.3" text-anchor="middle" fill="#303030" stroke="#303030" stroke-width="0.08">0</text>
<text x="329.35" y="279.10" font-size="6.3" text-anchor="middle" fill="#303030" stroke="#303030" stroke-width="0.08">10</text>
<text x="351.60" y="279.10" font-size="6.3" text-anchor="middle" fill="#303030" stroke="#303030" stroke-width="0.08">20</text>
<text x="373.85" y="279.10" font-size="6.3" text-anchor="middle" fill="#303030" stroke="#303030" stroke-width="0.08">30</text>
<text x="396.10" y="279.10" font-size="6.3" text-anchor="middle" fill="#303030" stroke="#303030" stroke-width="0.08">40</text>
<text x="318.10" y="291.70" font-size="9.8" textLength="70.5" lengthAdjust="spacingAndGlyphs" fill="#303030" stroke="#3a3a3a" stroke-width="0.12">Years since diagnosis</text>
<text transform="translate(273.90,227.40) rotate(-90)" font-size="9.0" text-anchor="middle" fill="#303030" stroke="#303030" stroke-width="0.06" textLength="55" lengthAdjust="spacingAndGlyphs">Normalization of</text>
<text transform="translate(285.40,227.40) rotate(-90)" font-size="9.0" text-anchor="middle" fill="#303030" stroke="#303030" stroke-width="0.06" textLength="32.5" lengthAdjust="spacingAndGlyphs">levels (%)</text>
<text x="341.80" y="189.90" font-size="6.6" fill="#303030" stroke="#303030" stroke-width="0.08">P &lt; .001</text>
<text x="383.10" y="242.60" font-size="6.5" fill="#303030" stroke="#303030" stroke-width="0.08">VWD pathophysiology:</text>
<text x="394.10" y="250.80" font-size="6.5" fill="#303030" stroke="#303030" stroke-width="0.08">No marked defect</text>
<text x="394.10" y="259.00" font-size="6.5" fill="#303030" stroke="#303030" stroke-width="0.08">Clear defect</text>
<text x="265.20" y="302.10" font-size="6.5" fill="#303030" stroke="#303030" stroke-width="0.08">No at risk</text>
<text x="265.20" y="312.10" font-size="6.5" fill="#303030" stroke="#303030" stroke-width="0.08">No defect</text>
<text x="307.10" y="312.10" font-size="6.5" text-anchor="middle" fill="#303030" stroke="#303030" stroke-width="0.08">172</text>
<text x="329.35" y="312.10" font-size="6.5" text-anchor="middle" fill="#303030" stroke="#303030" stroke-width="0.08">79</text>
<text x="351.60" y="312.10" font-size="6.5" text-anchor="middle" fill="#303030" stroke="#303030" stroke-width="0.08">19</text>
<text x="373.85" y="312.10" font-size="6.5" text-anchor="middle" fill="#303030" stroke="#303030" stroke-width="0.08">2</text>
<text x="396.10" y="312.10" font-size="6.5" text-anchor="middle" fill="#303030" stroke="#303030" stroke-width="0.08">0</text>
<text x="265.20" y="322.10" font-size="6.5" fill="#303030" stroke="#303030" stroke-width="0.08">Defect</text>
<text x="307.10" y="322.10" font-size="6.5" text-anchor="middle" fill="#303030" stroke="#303030" stroke-width="0.08">86</text>
<text x="329.35" y="322.10" font-size="6.5" text-anchor="middle" fill="#303030" stroke="#303030" stroke-width="0.08">61</text>
<text x="351.60" y="322.10" font-size="6.5" text-anchor="middle" fill="#303030" stroke="#303030" stroke-width="0.08">21</text>
<text x="373.85" y="322.10" font-size="6.5" text-anchor="middle" fill="#303030" stroke="#303030" stroke-width="0.08">4</text>
<text x="396.10" y="322.10" font-size="6.5" text-anchor="middle" fill="#303030" stroke="#303030" stroke-width="0.08">0</text></g>
</svg>
<div class="b" style="left:0;top:0;width:520px;height:1px;background:#555"></div>
<div class="b" style="left:0;top:0;width:1px;height:330px"></div>
<div class="b" style="left:519px;top:0;width:1px;height:330px"></div>
<div class="b" style="left:0;top:328px;width:520px;height:1px;background:#d8d8d8"></div>
<div class="b" style="left:0;top:329px;width:520px;height:1px;background:#404040"></div>
</div>
</body></html>
